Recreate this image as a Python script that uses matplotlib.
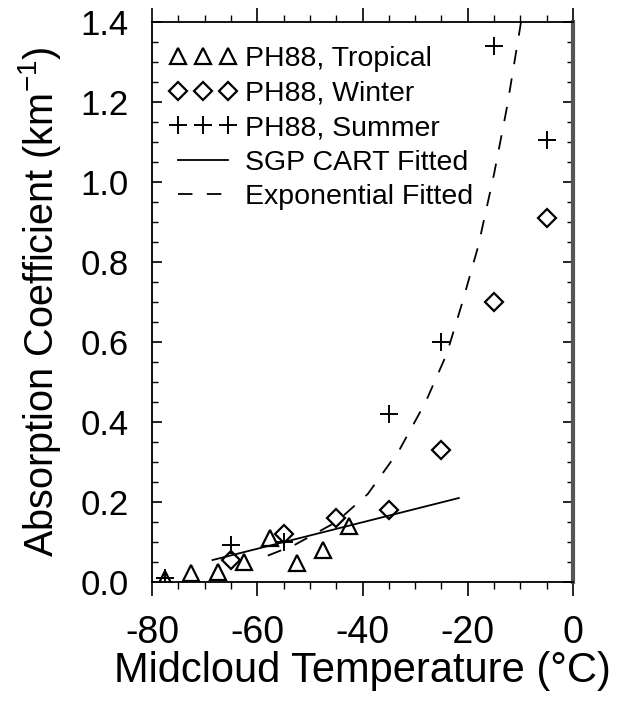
import matplotlib
matplotlib.use("Agg")
import matplotlib.pyplot as plt

plt.rcParams['font.family'] = ['Liberation Sans', 'DejaVu Sans']
plt.rcParams['mathtext.fontset'] = 'custom'
plt.rcParams['mathtext.rm'] = 'Liberation Sans'
plt.rcParams['mathtext.it'] = 'Liberation Sans'
plt.rcParams['axes.unicode_minus'] = False

# PH88 data
trop_t = [-77.5, -72.5, -67.5, -62.5, -57.5, -52.5, -47.5, -42.5]
trop_k = [0.008, 0.022, 0.025, 0.05, 0.11, 0.047, 0.08, 0.14]

wint_t = [-65, -55, -45, -35, -25, -15, -5]
wint_k = [0.055, 0.12, 0.16, 0.18, 0.33, 0.70, 0.91]

summ_t = [-77.5, -65, -55, -35, -25, -15, -5]
summ_k = [0.01, 0.092, 0.10, 0.42, 0.60, 1.34, 1.105]

# fitted curves, sampled from the figure
sgp_t = [-68.5, -21.7]
sgp_k = [0.055, 0.21]

exp_t = [-58, -53, -45, -39, -33, -28, -24, -21, -18, -15, -12.5, -10, -9.3]
exp_k = [0.066, 0.092, 0.15, 0.22, 0.33, 0.45, 0.57, 0.70, 0.84, 1.02, 1.19, 1.39, 1.45]

fig = plt.figure(figsize=(6.22, 7.02), dpi=100)
ax = fig.add_axes([0.2444, 0.1709, 0.6768, 0.7978])

ax.plot(trop_t, trop_k, ls='none', marker='^', ms=11, mfc='none', mec='black', mew=1.6,
        label='PH88, Tropical')
ax.plot(wint_t, wint_k, ls='none', marker='D', ms=9, mfc='none', mec='black', mew=1.6,
        label='PH88, Winter')
ax.plot(summ_t, summ_k, ls='none', marker='+', ms=13, mec='black', mew=1.4,
        label='PH88, Summer')
ax.plot(sgp_t, sgp_k, color='black', lw=1.3, label='SGP CART Fitted')
ax.plot(exp_t, exp_k, color='black', lw=1.3, ls=(0, (8, 8)), label='Exponential Fitted')

ax.set_xlim(-80, 0)
ax.set_ylim(0, 1.4)
ax.set_xticks([-80, -60, -40, -20, 0])
ax.set_xticks(range(-80, 1, 5), minor=True)
ax.set_yticks([0.0, 0.2, 0.4, 0.6, 0.8, 1.0, 1.2, 1.4])
ax.set_yticks([i * 0.05 for i in range(29)], minor=True)
ax.set_yticklabels(['0.0', '0.2', '0.4', '0.6', '0.8', '1.0', '1.2', '1.4'])

ax.tick_params(axis='x', which='major', direction='out', length=10, width=1.2,
               labelsize=27, pad=14, top=True)
ax.tick_params(axis='x', which='minor', direction='out', length=5, width=1, top=True)
ax.tick_params(axis='y', which='major', direction='in', length=7, width=1.2,
               labelsize=25, pad=17, right=True)
ax.tick_params(axis='y', which='minor', direction='in', length=4, width=1, right=True)

for s in ['left', 'bottom', 'top']:
    ax.spines[s].set_linewidth(1.3)
ax.spines['right'].set_linewidth(3)
ax.spines['right'].set_color('#555555')

ax.set_xlabel('Midcloud Temperature (°C)', fontsize=30, labelpad=0)
ax.set_ylabel('Absorption Coefficient (km$^{-1}$)', fontsize=28.5, labelpad=12)

ax.legend(loc='upper left', frameon=False, numpoints=3, fontsize=20.5,
          handlelength=2.35, handletextpad=0.3, labelspacing=0.3,
          borderaxespad=0, bbox_to_anchor=(0.014, 0.977))

fig.savefig('out.png', dpi=100)
